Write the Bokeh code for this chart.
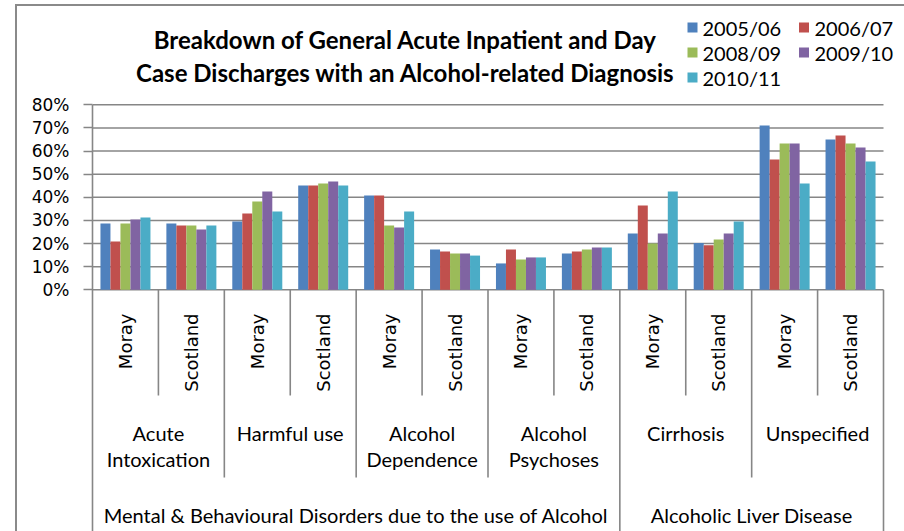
from bokeh.plotting import figure
from bokeh.models import Range1d, FixedTicker, NumeralTickFormatter, ColumnDataSource
from bokeh.core.properties import value
from bokeh.embed import file_html
from bokeh.resources import INLINE

# ---------------- data ----------------
regions = ["Moray", "Scotland"] * 6
subgroups = [["Acute", "Intoxication"], ["Harmful use"], ["Alcohol", "Dependence"],
             ["Alcohol", "Psychoses"], ["Cirrhosis"], ["Unspecified"]]
groups = ["Mental & Behavioural Disorders due to the use of Alcohol", "Alcoholic Liver Disease"]
group_sizes = [4, 2]  # subgroups per group
series_names = ["2005/06", "2006/07", "2008/09", "2009/10", "2010/11"]
v0506 = [28.7, 28.7, 29.5, 45.1, 40.8, 17.4, 11.4, 15.7, 24.3, 20.2, 71.0, 65.0]
v0607 = [20.9, 27.8, 33.0, 45.1, 40.8, 16.6, 17.4, 16.6, 36.5, 19.3, 56.3, 66.7]
v0809 = [28.7, 27.8, 38.2, 46.0, 27.8, 15.7, 13.1, 17.4, 20.0, 21.8, 63.3, 63.3]
v0910 = [30.4, 26.1, 42.5, 46.8, 26.9, 15.7, 14.0, 18.3, 24.3, 24.3, 63.3, 61.5]
v1011 = [31.3, 27.8, 33.9, 45.1, 33.9, 14.8, 14.0, 18.3, 42.5, 29.5, 46.0, 55.5]
series_values = [v0506, v0607, v0809, v0910, v1011]
y_ticks = [0, 0.1, 0.2, 0.3, 0.4, 0.5, 0.6, 0.7, 0.8]
title_lines = ["Breakdown of General Acute Inpatient and Day",
               "Case Discharges with an Alcohol-related Diagnosis"]

colors = ["#4F81BD", "#C0504D", "#9BBB59", "#8064A2", "#4BACC6"]
GRID = "#868686"
CAL = value("Lato")
DJV = value("DejaVu Sans")

# ---------------- geometry helpers ----------------
W, H = 904, 531
LEFT = 92
PX_X = 791 / 12                      # px per category
PX_Y = 231.25                        # px per unit (100%)
Y0 = 289.3                           # pixel y of 0%
def yd(py):
    return (Y0 - py) / PX_Y
def xd(px):
    return (px - LEFT) / PX_X

y_end = Y0 / PX_Y
y_start = y_end - H / PX_Y
x_end = (W - LEFT) / PX_X
n_cat = len(regions)

p = figure(width=W, height=H, output_backend="svg", toolbar_location=None,
           x_range=Range1d(0, x_end), y_range=Range1d(y_start, y_end),
           min_border_left=LEFT, min_border_right=0, min_border_top=0,
           min_border_bottom=0, tools="")
p.outline_line_color = None
p.border_fill_color = None
p.background_fill_color = None
p.styles = {
    "background": "linear-gradient(#8a8a8a,#8a8a8a) 15px 4px / 2px 100% no-repeat, "
                  "linear-gradient(#8a8a8a,#8a8a8a) 15px 4px / 100% 2px no-repeat, white",
}
p.xaxis.visible = False
p.xgrid.visible = False
p.ygrid.visible = False

ya = p.yaxis[0]
ya.ticker = FixedTicker(ticks=y_ticks)
ya.formatter = NumeralTickFormatter(format="0%")
ya.bounds = (y_start, 0.8)
ya.axis_line_color = GRID
ya.axis_line_width = 1.6
ya.major_tick_line_color = GRID
ya.major_tick_line_width = 1.6
ya.major_tick_out = 9
ya.major_tick_in = 0
ya.minor_tick_line_color = None
ya.major_label_text_font = "DejaVu Sans"
ya.major_label_text_font_size = "17px"
ya.major_label_text_color = "black"
ya.major_label_standoff = 14

# horizontal gridlines across the category span only
p.segment(x0=[0] * len(y_ticks), x1=[n_cat] * len(y_ticks), y0=y_ticks, y1=y_ticks,
          line_color=GRID, line_width=1.6)

# ---------------- bars ----------------
bw = 10 / PX_X
for k, (vals, c) in enumerate(zip(series_values, colors)):
    xs = [i + 0.5 + (k - 2) * bw for i in range(len(vals))]
    src = ColumnDataSource(dict(x=xs, top=[v / 100 for v in vals]))
    p.vbar(x="x", top="top", bottom=0, width=bw, source=src, fill_color=c,
           line_color=None)

# ---------------- category table ----------------
lvl1_bottom = yd(395)
lvl2_bottom = yd(477)
bottom = y_start
x0s, y0s, x1s, y1s = [], [], [], []
for i in range(1, n_cat, 2):
    x0s.append(i); x1s.append(i); y0s.append(0); y1s.append(lvl1_bottom)
b = 0
edges = [0]
for gs in group_sizes:
    for j in range(1, gs):
        xx = b + 2 * j
        x0s.append(xx); x1s.append(xx); y0s.append(0); y1s.append(lvl2_bottom)
    b += 2 * gs
    edges.append(b)
for e in edges[1:]:
    x0s.append(e); x1s.append(e); y0s.append(0); y1s.append(bottom)
p.segment(x0=x0s, y0=y0s, x1=x1s, y1=y1s, line_color=GRID, line_width=1.6)

# level 1 labels (rotated)
p.text(x=[i + 0.5 for i in range(n_cat)], y=[yd(313)] * n_cat, text=regions, angle=1.5708,
       text_align="right", text_baseline="middle", text_font=DJV,
       text_font_size="18px", text_color="black")

# level 2 labels
lx, ly, lt = [], [], []
for i, lines in enumerate(subgroups):
    for j, t in enumerate(lines):
        lx.append(2 * i + 1); ly.append(yd(432 + 26 * j)); lt.append(t)
p.text(x=lx, y=ly, text=lt, text_align="center", text_baseline="middle",
       text_font=CAL, text_font_size="20px", text_color="black")

# level 3 labels
gx = []
b = 0
for gs in group_sizes:
    gx.append(b + gs)
    b += 2 * gs
p.text(x=gx, y=[yd(514)] * 2, text=groups, text_align="center", text_baseline="middle",
       text_font=CAL, text_font_size="20px", text_color="black")

# ---------------- title ----------------
p.text(x=[xd(405)] * 2, y=[yd(39), yd(72)], text=title_lines, text_align="center",
       text_baseline="middle", text_font=CAL, text_font_style="bold",
       text_font_size="24px", text_color="black")

# ---------------- legend (manual) ----------------
col_sq = [692, 803.5]
col_tx = [702, 814]
rows = [27, 52, 77]
sx, sy, tx, ty = [], [], [], []
for k, name in enumerate(series_names):
    r, cidx = divmod(k, 2)
    sx.append(xd(col_sq[cidx])); sy.append(yd(rows[r]))
    tx.append(xd(col_tx[cidx])); ty.append(yd(rows[r]))
p.scatter(x=sx, y=sy, marker="square", size=10, fill_color=colors, line_color=None)
p.text(x=tx, y=ty, text=series_names, text_align="left", text_baseline="middle",
       text_font=CAL, text_font_size="20px", text_color="black")

open("out.html", "w").write(file_html(p, INLINE))
